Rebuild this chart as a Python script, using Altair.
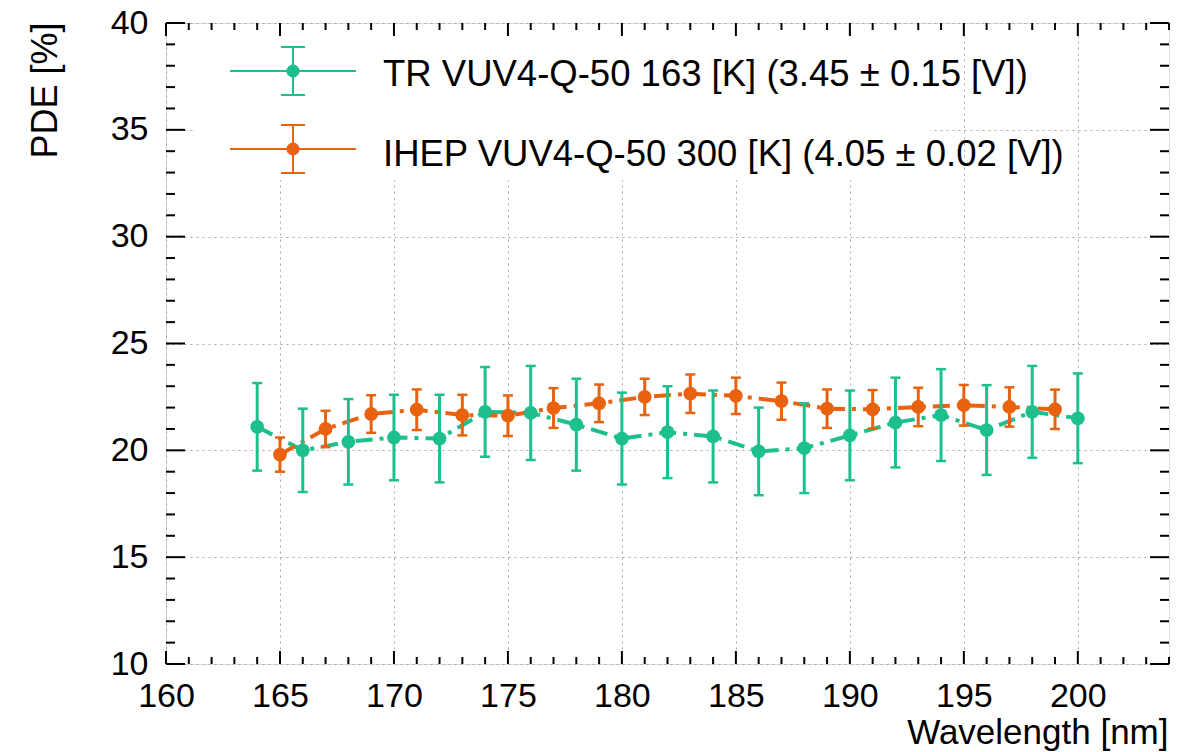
import altair as alt
import pandas as pd

# ---------------- data ----------------
wl_tr = [164, 166, 168, 170, 172, 174, 176, 178, 180, 182, 184, 186, 188, 190, 192, 194, 196, 198, 200]
pde_tr = [21.1, 20.0, 20.4, 20.6, 20.55, 21.8, 21.75, 21.2, 20.55, 20.85, 20.65, 19.95, 20.1, 20.7, 21.3, 21.65, 20.95, 21.8, 21.5]
err_tr = [2.05, 1.95, 2.0, 2.0, 2.05, 2.1, 2.2, 2.15, 2.15, 2.15, 2.15, 2.05, 2.1, 2.1, 2.1, 2.15, 2.1, 2.15, 2.1]

wl_ihep = [165, 167, 169, 171, 173, 175, 177, 179, 181, 183, 185, 187, 189, 191, 193, 195, 197, 199]
pde_ihep = [19.8, 21.0, 21.7, 21.9, 21.65, 21.62, 21.98, 22.2, 22.5, 22.65, 22.55, 22.3, 21.95, 21.92, 22.03, 22.11, 22.03, 21.92]
err_ihep = [0.8, 0.85, 0.88, 0.95, 0.95, 0.95, 0.93, 0.88, 0.85, 0.9, 0.85, 0.87, 0.9, 0.9, 0.9, 0.95, 0.92, 0.92]

series_names = ["TR VUV4-Q-50 163 [K] (3.45 \u00b1 0.15 [V])",
                "IHEP VUV4-Q-50 300 [K] (4.05 \u00b1 0.02 [V])"]
colors = ["#1dbf8e", "#e8620f"]

x_major = [160, 165, 170, 175, 180, 185, 190, 195, 200]
x_minor = [v for v in range(161, 205) if v % 5 != 0]
y_major = [10, 15, 20, 25, 30, 35, 40]
y_minor = [v for v in range(11, 40) if v % 5 != 0]

x_title = "Wavelength [nm]"
y_title = "PDE [%]"

# ---------------- layout constants ----------------
W, H = 1003, 641
FONT = "Liberation Sans"
LABEL_FS = 34
TITLE_FS = 35
LEGEND_FS = 36.5

def series_df(wl, pde, err):
    return pd.DataFrame({"wl": wl, "pde": pde,
                         "lo": [p - e for p, e in zip(pde, err)],
                         "hi": [p + e for p, e in zip(pde, err)]})

tr = series_df(wl_tr, pde_tr, err_tr)
ihep = series_df(wl_ihep, pde_ihep, err_ihep)

xs = alt.Scale(domain=[160, 204], nice=False, zero=False)
ys = alt.Scale(domain=[10, 40], nice=False, zero=False)

axis_x = alt.Axis(values=x_major, grid=True, gridDash=[2, 4], gridColor="#a8a8a8", gridWidth=1,
                  ticks=False, tickSize=0, domain=False, labelFontSize=LABEL_FS, labelFont=FONT,
                  labelColor="black", labelBaseline="alphabetic", labelPadding=42,
                  title=x_title, titleFont=FONT, titleFontSize=TITLE_FS, titleFontWeight="normal",
                  titleColor="black", titleAlign="right", titleBaseline="alphabetic",
                  titleX=1002, titleY=79, labelFlush=False, labelOverlap=False)
axis_y = alt.Axis(values=y_major, grid=True, gridDash=[2, 4], gridColor="#a8a8a8", gridWidth=1,
                  ticks=False, tickSize=0, domain=False, labelFontSize=LABEL_FS, labelFont=FONT,
                  labelColor="black", labelPadding=18, labelFlush=False, labelOverlap=False,
                  title=y_title, titleFont=FONT, titleFontSize=TITLE_FS + 1, titleFontWeight="normal",
                  titleColor="black", titleAngle=270, titleAlign="right", titleBaseline="alphabetic",
                  titleX=-110, titleY=-1)

def X(field="wl"):
    return alt.X(f"{field}:Q", scale=xs, axis=axis_x, title=x_title)

def Y(field="pde"):
    return alt.Y(f"{field}:Q", scale=ys, axis=axis_y, title=y_title)

# base layer with axes + grid (invisible points)
axes_layer = alt.Chart(tr).mark_point(opacity=0).encode(x=X(), y=Y())

# legend white background (hides grid under legend)
bg = alt.Chart(pd.DataFrame({"k": [0]})).mark_rect(color="white").encode(
    x=alt.value(29), x2=alt.value(764), y=alt.value(5), y2=alt.value(157))

# inward ticks on all four sides
xmaj = pd.DataFrame({"wl": x_major})
xmin = pd.DataFrame({"wl": x_minor})
ymaj = pd.DataFrame({"pde": y_major})
ymin = pd.DataFrame({"pde": y_minor})
tick_layers = []
for df, ln in [(xmaj, 13), (xmin, 7)]:
    tick_layers.append(alt.Chart(df).mark_rule(color="black", strokeWidth=2).encode(
        x=X(), y=alt.value(H), y2=alt.value(H - ln)))
    tick_layers.append(alt.Chart(df).mark_rule(color="black", strokeWidth=2).encode(
        x=X(), y=alt.value(0), y2=alt.value(ln)))
for df, ln in [(ymaj, 19), (ymin, 9)]:
    tick_layers.append(alt.Chart(df).mark_rule(color="black", strokeWidth=2).encode(
        y=Y(), x=alt.value(0), x2=alt.value(ln)))
    tick_layers.append(alt.Chart(df).mark_rule(color="black", strokeWidth=2).encode(
        y=Y(), x=alt.value(W), x2=alt.value(W - ln)))

def series_layers(df, color):
    line = alt.Chart(df).mark_line(color=color, strokeWidth=4, strokeDash=[17, 7, 4, 7]).encode(
        x=X(), y=Y(), order="wl:Q")
    bars = alt.Chart(df).mark_rule(color=color, strokeWidth=3).encode(
        x=X(), y=Y("lo"), y2="hi:Q")
    cap_lo = alt.Chart(df).mark_rule(color=color, strokeWidth=2.5, xOffset=-5, x2Offset=5).encode(
        x=X(), x2="wl:Q", y=Y("lo"))
    cap_hi = alt.Chart(df).mark_rule(color=color, strokeWidth=2.5, xOffset=-5, x2Offset=5).encode(
        x=X(), x2="wl:Q", y=Y("hi"))
    return [line], [bars, cap_lo, cap_hi]

def marker_layer(df, color):
    return alt.Chart(df).mark_circle(color=color, size=190, opacity=1).encode(x=X(), y=Y())

l_tr, e_tr = series_layers(tr, colors[0])
l_ih, e_ih = series_layers(ihep, colors[1])

# manual legend
one = pd.DataFrame({"k": [0]})
legend_layers = []
for i, (name, c) in enumerate(zip(series_names, colors)):
    cy = 48 + 78 * i
    legend_layers += [
        alt.Chart(one).mark_rule(color=c, strokeWidth=2).encode(
            x=alt.value(64), x2=alt.value(190), y=alt.value(cy)),
        alt.Chart(one).mark_rule(color=c, strokeWidth=2).encode(
            x=alt.value(127), y=alt.value(cy - 24), y2=alt.value(cy + 24)),
        alt.Chart(one).mark_rule(color=c, strokeWidth=2).encode(
            x=alt.value(115), x2=alt.value(139), y=alt.value(cy - 24)),
        alt.Chart(one).mark_rule(color=c, strokeWidth=2).encode(
            x=alt.value(115), x2=alt.value(139), y=alt.value(cy + 24)),
        alt.Chart(one).mark_circle(color=c, size=170, opacity=1).encode(
            x=alt.value(127), y=alt.value(cy)),
        alt.Chart(pd.DataFrame({"t": [name]})).mark_text(
            align="left", baseline="middle", font=FONT, fontSize=LEGEND_FS, color="black").encode(
            x=alt.value(217), y=alt.value(cy + 4 + 2 * i), text="t:N"),
    ]

chart = alt.layer(
    axes_layer, bg, *tick_layers,
    *l_tr, *l_ih, *e_tr, *e_ih,
    marker_layer(tr, colors[0]), marker_layer(ihep, colors[1]),
    *legend_layers,
).properties(
    width=W, height=H,
    autosize=alt.AutoSizeParams(type="none"),
    padding={"left": 166, "top": 23, "right": 17, "bottom": 88},
).configure_view(stroke="black", strokeWidth=2.5).configure(background="white")

chart.save("out.html", embed_options={"renderer": "svg", "actions": False})
